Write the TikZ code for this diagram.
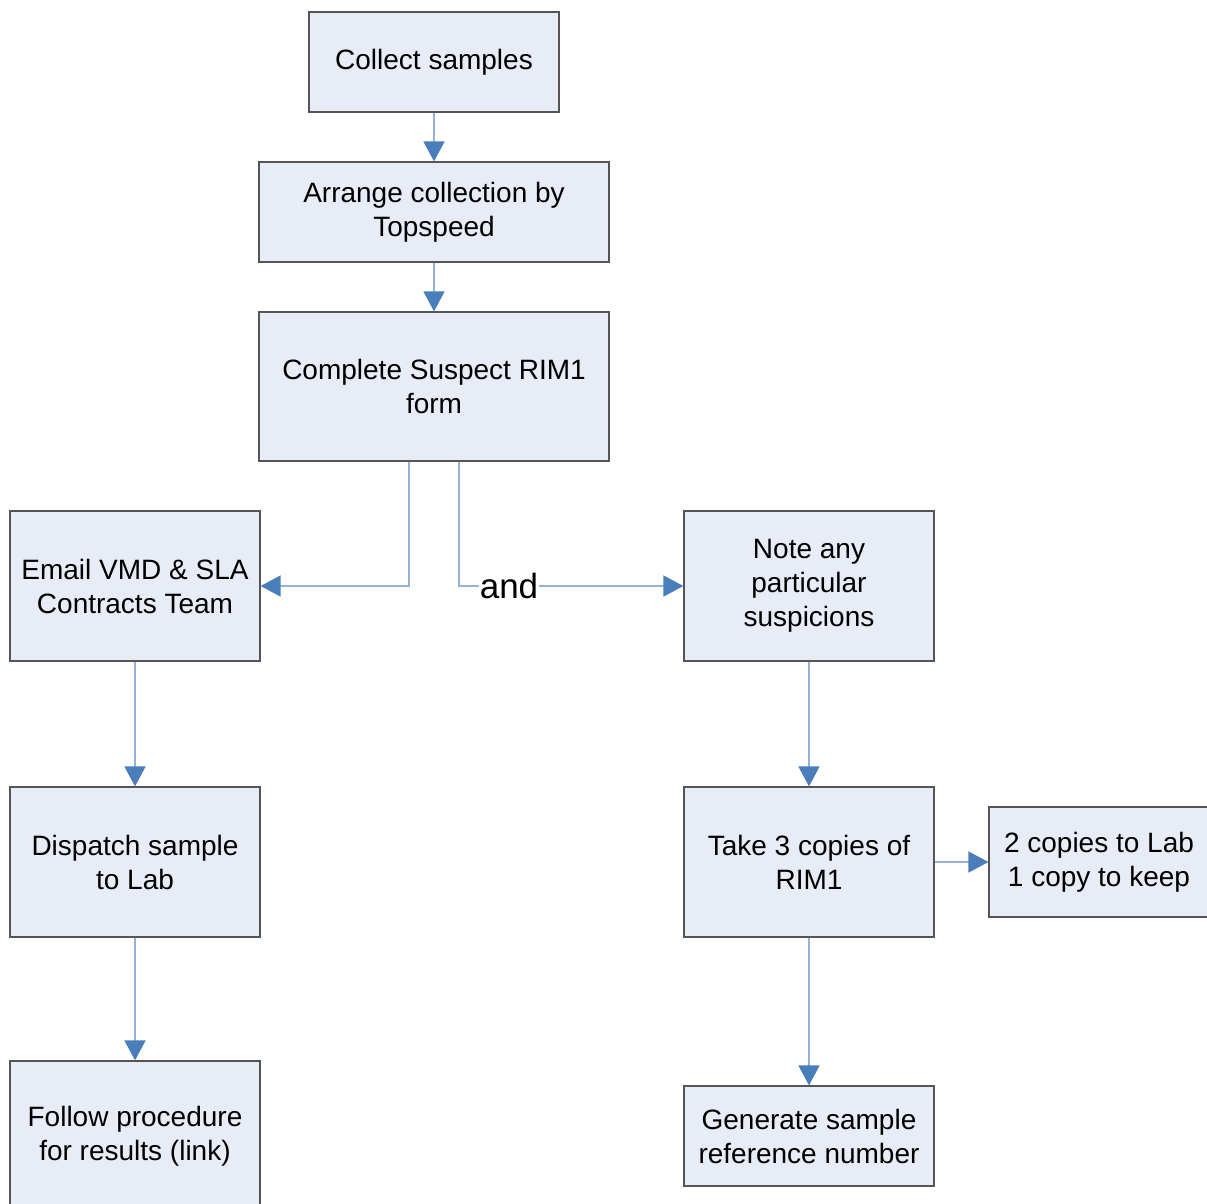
\documentclass[tikz,border=0pt]{standalone}
\usepackage{fontspec}
\setmainfont{Liberation Sans}
\usetikzlibrary{arrows.meta}
\definecolor{boxfill}{HTML}{E7ECF7}
\definecolor{boxline}{HTML}{555555}
\definecolor{linkline}{HTML}{95B3D7}
\definecolor{tipblue}{HTML}{4A7EBB}
\tikzset{
  flowbox/.style={draw=boxline, line width=1.2pt, fill=boxfill, align=center,
    inner sep=0pt, font=\fontsize{28}{34}\selectfont, text=black},
  flowlink/.style={draw=linkline, line width=1.6pt,
    -{Triangle[length=20pt,width=21pt,color=tipblue]}},
  plainlink/.style={draw=linkline, line width=1.6pt}
}
\begin{document}
\begin{tikzpicture}[x=1pt,y=-1pt]
\path[use as bounding box] (0,0) rectangle (1207,1204);
\clip (0,0) rectangle (1207,1204);
\node[flowbox, minimum width=250pt, minimum height=100pt] (collect) at (434,62) {Collect samples};
\node[flowbox, minimum width=350pt, minimum height=100pt] (arrange) at (434,212) {Arrange collection by\\Topspeed};
\node[flowbox, minimum width=350pt, minimum height=149pt] (complete) at (434,386.5) {Complete Suspect RIM1\\form};
\node[flowbox, minimum width=250pt, minimum height=150pt] (email) at (135,586) {Email VMD \& SLA\\Contracts Team};
\node[flowbox, minimum width=250pt, minimum height=150pt] (note) at (809,586) {Note any\\particular\\suspicions};
\node[flowbox, minimum width=250pt, minimum height=150pt] (dispatch) at (135,862) {Dispatch sample\\to Lab};
\node[flowbox, minimum width=250pt, minimum height=150pt] (take) at (809,862) {Take 3 copies of\\RIM1};
\node[flowbox, minimum width=220pt, minimum height=110pt] (copies) at (1099,862) {2 copies to Lab\\1 copy to keep};
\node[flowbox, minimum width=250pt, minimum height=150pt] (follow) at (135,1136) {Follow procedure\\for results (link)};
\node[flowbox, minimum width=250pt, minimum height=100pt] (generate) at (809,1136) {Generate sample\\reference number};

\draw[flowlink] (collect) -- (arrange);
\draw[flowlink] (arrange) -- (complete);
\draw[flowlink] ([xshift=-25pt]complete.south) |- (email.east);
\draw[flowlink] ([xshift=25pt]complete.south) |- (note.west);
\node[fill=white, inner sep=1pt, font=\fontsize{35}{40}\selectfont] (andlabel) at (509,586) {and};
\draw[flowlink] (email) -- (dispatch);
\draw[flowlink] (dispatch) -- (follow);
\draw[flowlink] (note) -- (take);
\draw[flowlink] (take) -- (generate);
\draw[flowlink] (take) -- (copies);
\end{tikzpicture}
\end{document}
